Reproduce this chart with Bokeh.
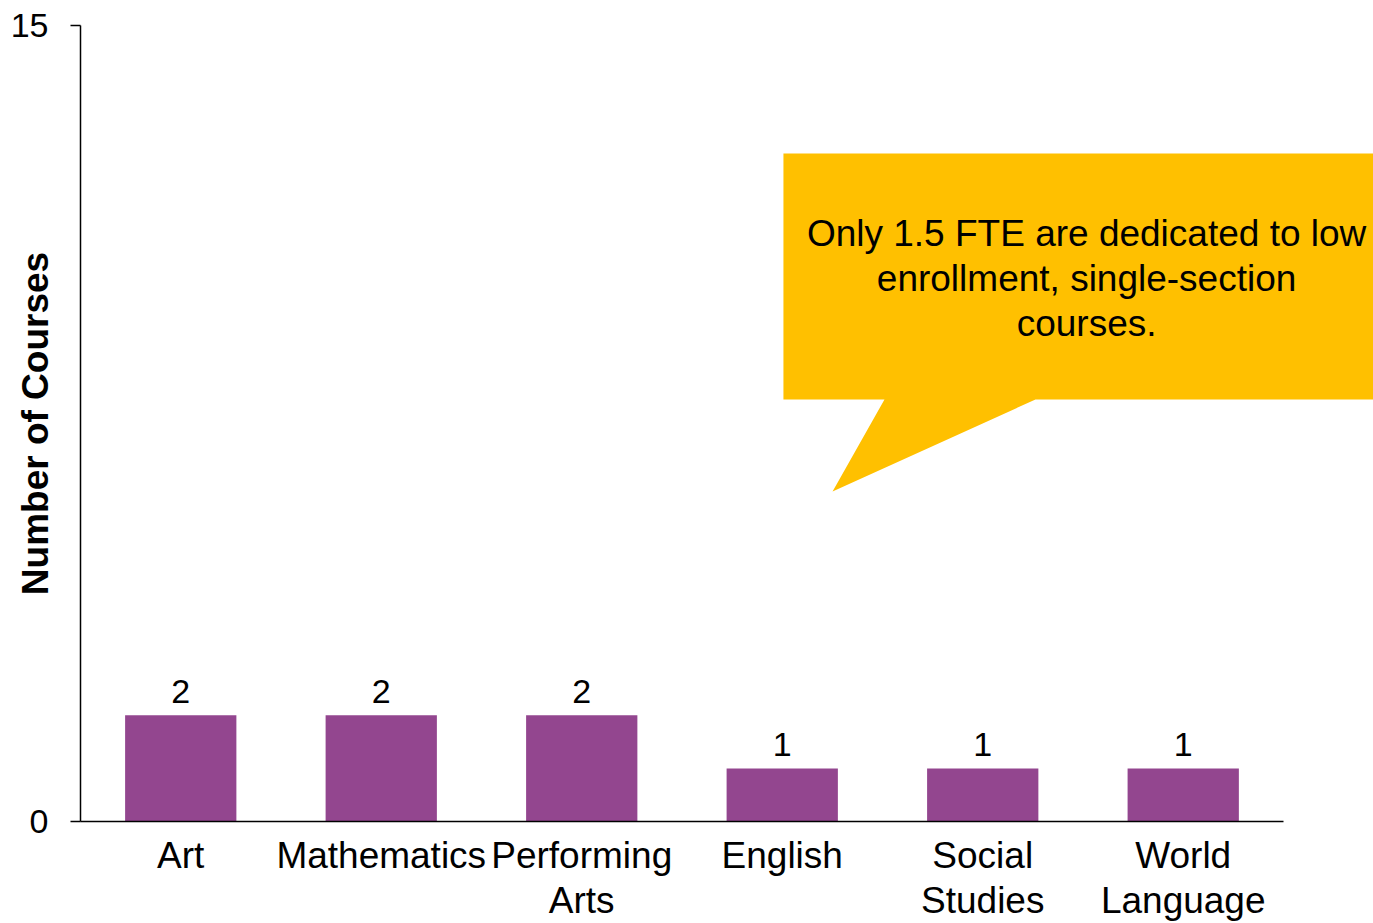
from bokeh.plotting import figure
from bokeh.models import Range1d, FixedTicker, ColumnDataSource
from bokeh.embed import file_html
from bokeh.resources import INLINE
from bokeh.core.properties import value

categories = ["Art", "Mathematics", "Performing\nArts", "English", "Social\nStudies", "World\nLanguage"]
courses = [2, 2, 2, 1, 1, 1]
y_ticks = [0, 15]
callout_text = "Only 1.5 FTE are dedicated to low\nenrollment, single-section\ncourses."

FONT = "Liberation Sans"
BAR_COLOR = "#93468F"
CALLOUT_COLOR = "#FFC000"

xs = list(range(len(categories)))
src = ColumnDataSource(dict(x=xs, top=courses, label=[str(v) for v in courses]))

p = figure(width=1373, height=923, output_backend="svg", toolbar_location=None,
           x_range=Range1d(-0.5, 5.949), y_range=Range1d(0, 15),
           min_border_left=80, min_border_right=0, min_border_top=25, min_border_bottom=102)
p.outline_line_color = None
p.xgrid.visible = False
p.ygrid.visible = False
p.background_fill_color = "white"
p.border_fill_color = "white"

# callout (speech bubble)
p.patch(x=[3.006, 6.2, 6.2, 4.263, 3.251, 3.510, 3.006],
        y=[12.588, 12.588, 7.952, 7.952, 6.219, 7.952, 7.952],
        fill_color=CALLOUT_COLOR, line_color=None)
p.text(x=[4.518], y=[10.232], text=[callout_text], text_align="center", text_baseline="middle",
       text_font=value(FONT), text_font_size="37px", text_line_height=1.1, text_color="black")

p.vbar(x="x", top="top", width=0.555, source=src, fill_color=BAR_COLOR, line_color=None)
p.text(x="x", y="top", text="label", source=src, text_align="center", text_baseline="alphabetic",
       y_offset=-24, text_font=value(FONT), text_font_size="34px", text_color="black")

xa = p.xaxis[0]
xa.ticker = FixedTicker(ticks=xs)
xa.major_label_overrides = {i: c for i, c in enumerate(categories)}
xa.bounds = (-0.5, 5.5)
xa.major_tick_out = 0
xa.major_tick_in = 0
xa.minor_tick_out = 0
xa.minor_tick_in = 0
xa.major_label_standoff = 13
xa.major_label_text_font = FONT
xa.major_label_text_font_size = "37px"
xa.major_label_text_line_height = 1.1
xa.major_label_text_color = "black"
xa.axis_line_color = "black"
xa.axis_line_width = 1.5

ya = p.yaxis[0]
ya.ticker = FixedTicker(ticks=y_ticks)
ya.major_tick_out = 10
ya.major_tick_in = 0
ya.minor_tick_out = 0
ya.minor_tick_in = 0
ya.major_tick_line_color = "black"
ya.major_tick_line_width = 1.5
ya.major_label_standoff = 22
ya.major_label_text_font = FONT
ya.major_label_text_font_size = "34px"
ya.major_label_text_color = "black"
ya.axis_line_color = "black"
ya.axis_line_width = 1.5
ya.axis_label = "Number of Courses"
ya.axis_label_text_font = FONT
ya.axis_label_text_font_style = "bold"
ya.axis_label_text_font_size = "37px"
ya.axis_label_text_color = "black"
ya.axis_label_standoff = -48

open("out.html", "w").write(file_html(p, INLINE))
